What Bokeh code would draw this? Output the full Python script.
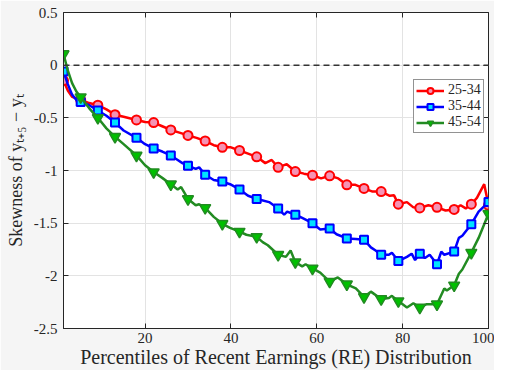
from bokeh.plotting import figure
from bokeh.models import LinearAxis, FixedTicker, Span, Range1d, Legend, LegendItem, CustomLabelingPolicy
from bokeh.embed import file_html
from bokeh.resources import INLINE

# ---- data ----
marker_x = [1, 5, 9, 13, 18, 22, 26, 30, 34, 38, 42, 46, 51, 55, 59, 63, 67, 71, 75, 79, 84, 88, 92, 96, 100]

red_x = [1, 2, 3, 5, 7, 9, 11, 13, 15, 18, 20, 22, 24, 26, 28, 30, 32, 34, 36, 38, 40, 42, 44, 46,
         48, 49.5, 51, 53, 55, 57, 59, 61, 63, 65, 67, 69, 71, 73, 75, 77, 78, 79, 81, 82.5, 84, 86,
         88, 90, 92, 93.5, 94.7, 96, 97.3, 99, 100]
red_y = [-0.146, -0.24, -0.30, -0.33, -0.36, -0.38, -0.42, -0.47, -0.49, -0.52, -0.54, -0.545, -0.58,
         -0.615, -0.64, -0.667, -0.69, -0.72, -0.76, -0.78, -0.78, -0.81, -0.84, -0.87, -0.93, -0.90,
         -0.97, -0.94, -1.01, -1.03, -1.045, -1.075, -1.05, -1.075, -1.136, -1.136, -1.17, -1.20, -1.20,
         -1.24, -1.236, -1.32, -1.30, -1.35, -1.355, -1.33, -1.35, -1.38, -1.37, -1.33, -1.36, -1.32,
         -1.26, -1.13, -1.33]

blue_x = [1, 2, 3, 4, 5, 7, 9, 11, 13, 15, 18, 20, 22, 24, 26, 27.6, 28.7, 30, 31.8, 32.6, 34, 36, 38,
          39.8, 42, 44, 46, 47, 48.9, 51, 52.4, 53.1, 55, 56.6, 59, 60.8, 63, 64.6, 67, 69.1, 71, 72.6,
          73.7, 75, 76.8, 77.5, 79, 81, 82.1, 82.9, 84, 85.2, 86.3, 88, 89, 89.7, 92, 93.1, 93.9, 96,
          97.7, 100]
blue_y = [-0.06, -0.18, -0.28, -0.33, -0.35, -0.38, -0.43, -0.48, -0.545, -0.62, -0.69, -0.75, -0.79,
          -0.82, -0.857, -0.90, -0.93, -0.955, -0.985, -0.97, -1.04, -1.09, -1.105, -1.13, -1.18, -1.24,
          -1.27, -1.28, -1.30, -1.36, -1.42, -1.39, -1.42, -1.45, -1.50, -1.56, -1.55, -1.605, -1.645,
          -1.65, -1.657, -1.73, -1.76, -1.80, -1.80, -1.78, -1.86, -1.82, -1.79, -1.85, -1.79, -1.83,
          -1.80, -1.89, -1.77, -1.80, -1.77, -1.64, -1.62, -1.51, -1.39, -1.30]

green_x = [1, 2, 3, 4, 5, 7, 9, 11, 13, 15, 18, 20, 22, 24, 26, 27.6, 28.4, 30, 31.8, 32.6, 34, 36, 38,
           39.8, 42, 43.6, 46, 47.4, 48.6, 51, 52.8, 53.9, 55, 56.6, 57.4, 59, 60.8, 63, 64.9, 67, 69.1,
           71, 72.6, 75, 76.8, 77.5, 79, 81, 82.5, 84, 85.5, 88, 89.7, 90.3, 92, 93.1, 93.9, 96, 97.7, 100]
green_y = [0.106, -0.05, -0.17, -0.25, -0.303, -0.41, -0.50, -0.60, -0.68, -0.75, -0.857, -0.95, -1.015,
           -1.07, -1.13, -1.18, -1.157, -1.27, -1.33, -1.32, -1.355, -1.44, -1.506, -1.545, -1.58, -1.61,
           -1.63, -1.68, -1.71, -1.80, -1.82, -1.76, -1.87, -1.91, -1.89, -1.93, -1.97, -2.055, -2.015,
           -2.08, -2.12, -2.20, -2.15, -2.22, -2.21, -2.19, -2.24, -2.30, -2.26, -2.30, -2.27, -2.27,
           -2.12, -2.14, -2.09, -1.98, -1.94, -1.78, -1.64, -1.41]

series_names = ["25-34", "35-44", "45-54"]
x_ticks = [20, 40, 60, 80, 100]
y_ticks = [0.5, 0, -0.5, -1, -1.5, -2, -2.5]
y_tick_labels = ["0.5", "0", "-0.5", "-1", "-1.5", "-2", "-2.5"]
zero_level = 0

SERIF = "Liberation Serif"

def pick(xs, ys):
    mx, my = [], []
    for a, b in zip(xs, ys):
        if a in marker_x:
            mx.append(a)
            my.append(b)
    return mx, my

p = figure(width=494, height=370, output_backend="svg", toolbar_location=None,
           x_range=Range1d(1, 100), y_range=Range1d(-2.5, 0.5),
           min_border_left=63, min_border_right=6, min_border_top=12, min_border_bottom=38,
           background_fill_color="white", border_fill_color="#f5f5f5")

p.outline_line_color = "#262626"
p.outline_line_width = 1

p.xaxis.ticker = FixedTicker(ticks=x_ticks)
p.yaxis.ticker = FixedTicker(ticks=y_ticks)
p.yaxis.major_label_overrides = {t: l for t, l in zip(y_ticks, y_tick_labels)}
for ax in (p.xaxis[0], p.yaxis[0]):
    ax.major_tick_in = 5
    ax.major_tick_out = 0
    ax.minor_tick_in = 0
    ax.minor_tick_out = 0
    ax.axis_line_color = "#262626"
    ax.major_tick_line_color = "#262626"
    ax.major_label_text_font = SERIF
    ax.major_label_text_font_size = "15px"
    ax.major_label_text_color = "#262626"
    ax.axis_label_text_font = SERIF
    ax.axis_label_text_font_style = "normal"
    ax.axis_label_text_color = "#262626"

p.xaxis.axis_label = "Percentiles of Recent Earnings (RE) Distribution"
p.yaxis.axis_label = "Skewness of yₜ₊₅ − yₜ"
p.xaxis.axis_label_text_font_size = "20px"
p.yaxis.axis_label_text_font_size = "18px"
p.xaxis.major_label_standoff = 4
p.xaxis.axis_label_standoff = 0
p.yaxis.major_label_standoff = 6
p.yaxis.axis_label_standoff = 5

no_labels = CustomLabelingPolicy(code="return new Set()")
top_ax = LinearAxis(ticker=FixedTicker(ticks=x_ticks), major_tick_in=5, major_tick_out=0,
                    minor_tick_in=0, minor_tick_out=0, axis_line_color=None,
                    major_tick_line_color="#262626", major_label_text_font_size="1px",
                    major_label_standoff=0, major_label_policy=no_labels)
right_ax = LinearAxis(ticker=FixedTicker(ticks=y_ticks), major_tick_in=5, major_tick_out=0,
                      minor_tick_in=0, minor_tick_out=0, axis_line_color=None,
                      major_tick_line_color="#262626", major_label_text_font_size="1px",
                      major_label_standoff=0, major_label_policy=no_labels)
p.add_layout(top_ax, "above")
p.add_layout(right_ax, "right")

p.xgrid.ticker = FixedTicker(ticks=x_ticks)
p.ygrid.ticker = FixedTicker(ticks=y_ticks)
p.grid.grid_line_color = "#e3e3e3"
p.grid.grid_line_width = 1

p.add_layout(Span(location=zero_level, dimension="width", line_color="#333333",
                  line_width=1.5, line_dash="6 4"))

items = []
rl = p.line(red_x, red_y, line_color="#ff0000", line_width=2.5)
mx, my = pick(red_x, red_y)
rm = p.scatter(mx, my, marker="circle", size=9, fill_color="#f593b4", line_color="#ff0000", line_width=2)
items.append(LegendItem(label=series_names[0], renderers=[rl, rm]))
bl = p.line(blue_x, blue_y, line_color="#0000ff", line_width=2.5)
mx, my = pick(blue_x, blue_y)
bm = p.scatter(mx, my, marker="square", size=8, fill_color="#00e1ff", line_color="#0000ff", line_width=2)
items.append(LegendItem(label=series_names[1], renderers=[bl, bm]))
gl = p.line(green_x, green_y, line_color="#228b22", line_width=2.5)
mx, my = pick(green_x, green_y)
gm = p.scatter(mx, my, marker="inverted_triangle", size=11, fill_color="#00c000", line_color="#228b22", line_width=1.5)
items.append(LegendItem(label=series_names[2], renderers=[gl, gm]))

legend = Legend(items=items, location=(350, 195), border_line_color="#262626", border_line_width=1,
                background_fill_color="white", background_fill_alpha=1,
                label_text_font=SERIF, label_text_font_size="14px", label_text_color="#262626",
                glyph_width=28, glyph_height=15, label_height=15, spacing=0, padding=2, margin=0,
                label_standoff=4)
p.add_layout(legend, "center")

open("out.html", "w").write(file_html(p, INLINE))
